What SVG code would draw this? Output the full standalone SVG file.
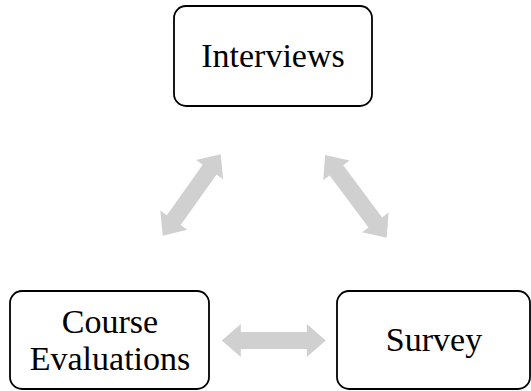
<svg xmlns="http://www.w3.org/2000/svg" width="531" height="391" viewBox="0 0 531 391">
<style>
.box{fill:#fff;stroke:#000;stroke-width:1.8}
.lbl{font-family:"Liberation Serif","Times New Roman",serif;font-size:34px;fill:#000;text-anchor:middle}
.arr{fill:#d0d0d0;stroke:none}
</style>
<defs>
<path id="a100" d="M-50,0 L-31,-16.5 L-31,-8.5 L31,-8.5 L31,-16.5 L50,0 L31,16.5 L31,8.5 L-31,8.5 L-31,16.5 Z"/>
<path id="a103" d="M-51.5,0 L-32.5,-16.5 L-32.5,-8.5 L32.5,-8.5 L32.5,-16.5 L51.5,0 L32.5,16.5 L32.5,8.5 L-32.5,8.5 L-32.5,16.5 Z"/>
<path id="a104" d="M-52,0 L-33,-16.5 L-33,-8.5 L33,-8.5 L33,-16.5 L52,0 L33,16.5 L33,8.5 L-33,8.5 L-33,16.5 Z"/>
</defs>
<g id="connectors">
<use href="#a100" class="arr" transform="translate(191.7,194.9) rotate(-54.6)"/>
<use href="#a103" class="arr" transform="translate(355.9,196.4) rotate(53.3)"/>
<use href="#a104" class="arr" transform="translate(273.8,340.5)"/>
</g>
<g id="interviews">
<rect class="box" x="174" y="6" width="198" height="100" rx="12"/>
<text class="lbl" x="273" y="67">Interviews</text>
</g>
<g id="course-evaluations">
<rect class="box" x="10" y="291" width="199" height="98" rx="12"/>
<text class="lbl" x="110" y="333">Course</text>
<text class="lbl" x="110" y="370">Evaluations</text>
</g>
<g id="survey">
<rect class="box" x="337" y="291" width="193" height="98" rx="12"/>
<text class="lbl" x="434" y="351">Survey</text>
</g>
</svg>
